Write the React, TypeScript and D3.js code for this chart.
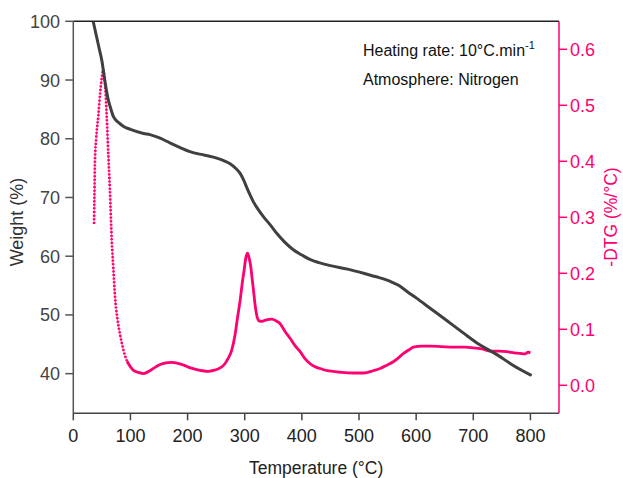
import React from "react";
import * as d3 from "d3";

// Thermogravimetric (TG) curve: temperature (°C) vs remaining weight (%)
const tgTemp = [35, 40, 45, 50, 55, 61, 66, 70, 80, 88, 100, 123, 134, 152, 169, 187, 204, 230, 251, 265, 275, 285, 292, 298, 304, 310, 315, 324, 333, 345, 356, 370, 385, 400, 415, 430, 450, 480, 508, 530, 555, 570, 584, 600, 625, 650, 683, 710, 742, 770, 800];
const tgWeight = [99.9, 97.7, 95.5, 93.3, 90.0, 86.7, 85.0, 83.8, 82.7, 82.1, 81.6, 80.9, 80.7, 80.1, 79.3, 78.5, 77.8, 77.2, 76.7, 76.2, 75.7, 74.9, 74.1, 73.0, 71.6, 70.3, 69.3, 67.9, 66.7, 65.3, 63.9, 62.4, 61.1, 60.2, 59.4, 58.9, 58.4, 57.8, 57.1, 56.5, 55.7, 55.0, 54.0, 52.9, 51.1, 49.3, 46.9, 45.0, 43.2, 41.4, 39.8];

// Derivative curve (-DTG, %/°C)
const dtgTemp = [36.3, 37, 38, 40, 43.8, 47, 50, 52.5, 55, 58.5, 61.3, 64, 67.2, 70, 73, 77, 82, 88, 94, 100, 105, 114, 123, 134, 143, 152, 162, 172, 183, 193, 205, 216, 226, 236, 247, 257, 265, 271, 277, 283, 288, 292, 296, 299, 302, 304.8, 307.5, 310.7, 313, 315.3, 318, 321, 325, 330, 338, 347, 355, 362, 370, 380, 388, 397, 405, 414, 423, 432, 445, 455, 470, 490, 508, 525, 537, 549, 560, 570, 578, 587, 595, 610, 625, 645, 665, 685, 700, 715, 730, 745, 759, 772, 782, 790, 796, 800];
const dtgValue = [0.288, 0.34, 0.405, 0.44, 0.482, 0.522, 0.55, 0.564, 0.545, 0.48, 0.41, 0.35, 0.26, 0.21, 0.158, 0.12, 0.09, 0.062, 0.043, 0.033, 0.027, 0.023, 0.021, 0.026, 0.032, 0.037, 0.04, 0.041, 0.039, 0.036, 0.031, 0.028, 0.026, 0.025, 0.027, 0.031, 0.038, 0.048, 0.062, 0.09, 0.125, 0.152, 0.185, 0.206, 0.228, 0.236, 0.228, 0.211, 0.19, 0.17, 0.145, 0.125, 0.115, 0.114, 0.117, 0.118, 0.115, 0.11, 0.097, 0.083, 0.071, 0.06, 0.048, 0.039, 0.033, 0.03, 0.026, 0.025, 0.023, 0.022, 0.022, 0.026, 0.03, 0.036, 0.042, 0.05, 0.057, 0.063, 0.068, 0.07, 0.07, 0.069, 0.068, 0.068, 0.067, 0.065, 0.061, 0.061, 0.06, 0.058, 0.057, 0.056, 0.059, 0.058];

const xTicks = [0, 100, 200, 300, 400, 500, 600, 700, 800];
const weightTicks = [40, 50, 60, 70, 80, 90, 100];
const dtgTicks = [0.0, 0.1, 0.2, 0.3, 0.4, 0.5, 0.6];

const W = 623;
const H = 478;
const left = 73.3;
const right = 559;
const top = 21.3;
const bottom = 413.3;

const PINK = "#ff0070";
const GREY = "#404040";
const FONT = "'Liberation Sans', Arial, sans-serif";

export default function App() {
  const x = d3.scaleLinear().domain([0, 850]).range([left, right]);
  const yW = d3.scaleLinear().domain([33.25, 100]).range([bottom, top]);
  const yD = d3.scaleLinear().domain([-0.05, 0.65]).range([bottom, top]);

  const tg = tgTemp.map((t, i) => [t, tgWeight[i]] as [number, number]);
  const dtg = dtgTemp.map((t, i) => [t, dtgValue[i]] as [number, number]);
  const steep = dtg.filter((d) => d[0] <= 94);
  const rest = dtg.filter((d) => d[0] >= 94);

  const tgLine = d3
    .line<[number, number]>()
    .x((d) => x(d[0]))
    .y((d) => yW(d[1]))
    .curve(d3.curveMonotoneX);
  const dtgLine = d3
    .line<[number, number]>()
    .x((d) => x(d[0]))
    .y((d) => yD(d[1]))
    .curve(d3.curveMonotoneX);

  const fmt = d3.format(".1f");

  return (
    <svg
      width={W}
      height={H}
      style={{ position: "absolute", left: 0, top: 0, background: "#fff" }}
      fontFamily={FONT}
    >
      <defs>
        <clipPath id="plot">
          <rect x={left} y={top} width={right - left} height={bottom - top} />
        </clipPath>
      </defs>

      {/* DTG curve */}
      <g clipPath="url(#plot)" fill="none">
        <path d={dtgLine(steep) || ""} stroke="#ff5c98" strokeWidth={1} />
        <path
          d={dtgLine(steep) || ""}
          stroke={PINK}
          strokeWidth={2.6}
          strokeDasharray="2 1.6"
        />
        <path d={dtgLine(rest) || ""} stroke={PINK} strokeWidth={2.8} strokeLinejoin="round" />
      </g>

      {/* TG curve */}
      <g clipPath="url(#plot)">
        <path
          d={tgLine(tg) || ""}
          fill="none"
          stroke={GREY}
          strokeWidth={3}
          strokeLinejoin="round"
          strokeLinecap="round"
        />
      </g>

      {/* frame */}
      <line x1={left} x2={right} y1={top} y2={top} stroke="#222" strokeWidth={1.5} />
      <line x1={left} x2={left} y1={top} y2={bottom} stroke="#555" strokeWidth={1.5} />
      <line x1={left} x2={right} y1={bottom} y2={bottom} stroke="#444" strokeWidth={1.5} />
      <line x1={right} x2={right} y1={top} y2={bottom} stroke={PINK} strokeWidth={1.5} />

      {/* bottom axis */}
      {xTicks.map((t) => (
        <g key={"x" + t}>
          <line x1={x(t)} x2={x(t)} y1={bottom} y2={bottom + 7} stroke="#444" strokeWidth={1.5} />
          <text x={x(t)} y={441.5} textAnchor="middle" fontSize={18} fill="#222">
            {t}
          </text>
        </g>
      ))}

      {/* left axis */}
      {weightTicks.map((t) => (
        <g key={"w" + t}>
          <line x1={left - 8} x2={left} y1={yW(t)} y2={yW(t)} stroke="#555" strokeWidth={1.5} />
          <text x={60} y={yW(t) + 6.5} textAnchor="end" fontSize={18} fill="#444">
            {t}
          </text>
        </g>
      ))}

      {/* right axis */}
      {dtgTicks.map((t) => (
        <g key={"d" + t}>
          <line x1={right} x2={right + 8} y1={yD(t)} y2={yD(t)} stroke={PINK} strokeWidth={1.5} />
          <text x={570} y={yD(t) + 6.5} textAnchor="start" fontSize={18} fill={PINK}>
            {fmt(t)}
          </text>
        </g>
      ))}

      {/* axis titles */}
      <text x={(left + right) / 2} y={474} textAnchor="middle" fontSize={17.5} fill="#222">
        Temperature (°C)
      </text>
      <text
        transform="translate(23,222) rotate(-90)"
        textAnchor="middle"
        fontSize={18}
        fill="#333"
      >
        Weight (%)
      </text>
      <text
        transform="translate(617,217) rotate(-90)"
        textAnchor="middle"
        fontSize={17.5}
        fill={PINK}
      >
        -DTG (%/°C)
      </text>

      {/* conditions */}
      <text x={363} y={56} fontSize={16} fill="#111">
        Heating rate: 10°C.min
        <tspan dy={-7} fontSize={11}>
          -1
        </tspan>
      </text>
      <text x={363} y={85} fontSize={16} fill="#111">
        Atmosphere: Nitrogen
      </text>
    </svg>
  );
}
